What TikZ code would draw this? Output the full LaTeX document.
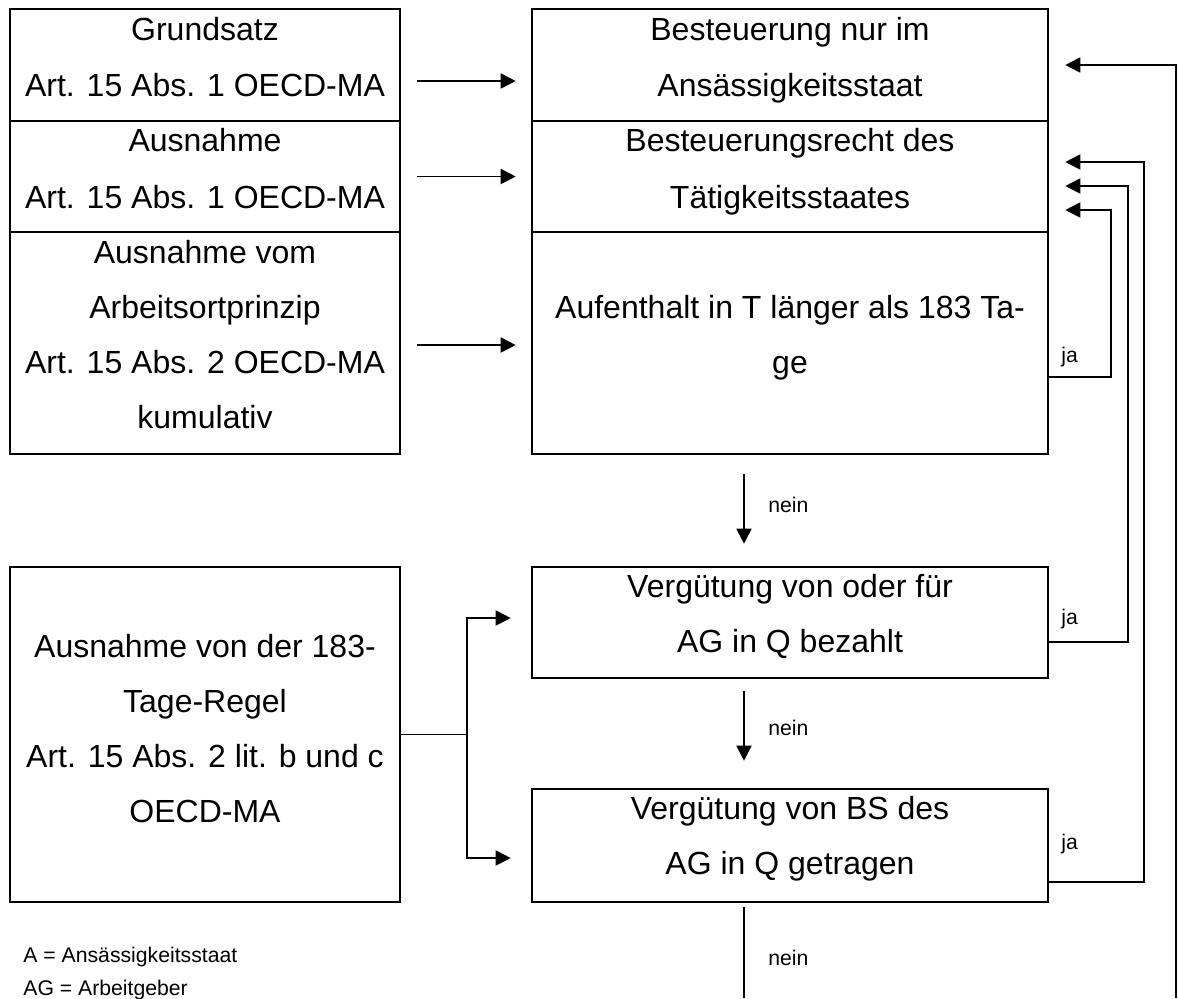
\documentclass[tikz,border=0pt]{standalone}
\usepackage{fontspec}
\setmainfont{Liberation Sans}
\usetikzlibrary{arrows.meta,calc}
\begin{document}
\begin{tikzpicture}[x=0.5pt,y=-0.5pt,
  box/.style={draw, line width=1.3pt, rectangle, inner sep=0pt},
  txt/.style={inner sep=0pt, anchor=base, font=\fontsize{16}{19}\selectfont},
  lbl/.style={inner sep=0pt, anchor=base west, font=\fontsize{10.6}{12}\selectfont},
  conn/.style={line width=0.9pt},
  arr/.style={conn, -{Triangle[length=7.5pt,width=7.5pt]}}]
\useasboundingbox (0,0) rectangle (1179,998);

% left column boxes
\node[box, minimum width=195pt, minimum height=56pt]   (L1) at (205,65) {};
\node[box, minimum width=195pt, minimum height=55.5pt] (L2) at (205,176.5) {};
\node[box, minimum width=195pt, minimum height=111pt]  (L3) at (205,343) {};
\node[box, minimum width=195pt, minimum height=167.5pt] (LD) at (205,734.5) {};

% right column boxes
\node[box, minimum width=258pt, minimum height=56pt]   (R1) at (790,65) {};
\node[box, minimum width=258pt, minimum height=55.5pt] (R2) at (790,176.5) {};
\node[box, minimum width=258pt, minimum height=111pt]  (R3) at (790,343) {};
\node[box, minimum width=258pt, minimum height=55.5pt] (R4) at (790,622.5) {};
\node[box, minimum width=258pt, minimum height=56.5pt] (R5) at (790,845.5) {};

% texts left
\node[txt] (t11) at (205,40)   {Grundsatz};
\node[txt] (t12) at (205,96.5) {Art. 15 Abs. 1 OECD-MA};
\node[txt] (t21) at (205,151.5){Ausnahme};
\node[txt] (t22) at (205,208)  {Art. 15 Abs. 1 OECD-MA};
\node[txt] (t31) at (205,263)  {Ausnahme vom};
\node[txt] (t32) at (205,318)  {Arbeitsortprinzip};
\node[txt] (t33) at (205,373)  {Art. 15 Abs. 2 OECD-MA};
\node[txt] (t34) at (205,428)  {kumulativ};
\node[txt] (tD1) at (205,657)  {Ausnahme von der 183-};
\node[txt] (tD2) at (205,712)  {Tage-Regel};
\node[txt] (tD3) at (205,767)  {Art. 15 Abs. 2 lit. b und c};
\node[txt] (tD4) at (205,822)  {OECD-MA};

% texts right
\node[txt] (r11) at (790,40)   {Besteuerung nur im};
\node[txt] (r12) at (790,96.5) {Ansässigkeitsstaat};
\node[txt] (r21) at (790,151.5){Besteuerungsrecht des};
\node[txt] (r22) at (790,208)  {Tätigkeitsstaates};
\node[txt] (r31) at (790,318)  {Aufenthalt in T länger als 183 Ta-};
\node[txt] (r32) at (790,373)  {ge};
\node[txt] (r41) at (790,597)  {Vergütung von oder für};
\node[txt] (r42) at (790,652)  {AG in Q bezahlt};
\node[txt] (r51) at (790,819)  {Vergütung von BS des};
\node[txt] (r52) at (790,874)  {AG in Q getragen};

% left to right arrows
\draw[arr, shorten <=8pt, shorten >=7.5pt] ($(L1.east)+(0,16)$) -- ($(R1.west)+(0,16)$);
\draw[arr, shorten <=8pt, shorten >=7.5pt] (L2.east) -- (R2.west);
\draw[arr, shorten <=8pt, shorten >=7.5pt] ($(L3.east)+(0,2)$) -- ($(R3.west)+(0,2)$);

% branch from LD
\coordinate (br) at ($(LD.east)+(66,0)$);
\draw[conn] (LD.east) -- (br);
\draw[arr, shorten >=10pt] (br) |- ($(R4.west)+(0,-4.5)$);
\draw[arr, shorten >=10pt] (br) |- ($(R5.west)+(0,12.5)$);

% nein arrows
\draw[arr, shorten <=9.5pt, shorten >=11pt] ($(R3.south)+(-46,0)$) -- ($(R4.north)+(-46,0)$);
\draw[arr, shorten <=6pt, shorten >=13.5pt] ($(R4.south)+(-46,0)$) -- ($(R5.north)+(-46,0)$);
\coordinate (cutA) at (744,998);
\draw[conn, shorten <=2pt] ($(R5.south)+(-46,0)$) -- (cutA);

% ja connectors
\coordinate (k3) at (1111,210);
\draw[arr, shorten >=8pt] ($(R3.east)+(0,34)$) -| (k3) -- ($(R2.east)+(0,33.5)$);
\coordinate (k4) at (1128,186);
\draw[arr, shorten >=8pt] ($(R4.east)+(0,19.5)$) -| (k4) -- ($(R2.east)+(0,9.5)$);
\coordinate (k5) at (1144,162);
\draw[arr, shorten >=8pt] ($(R5.east)+(0,36.5)$) -| (k5) -- ($(R2.east)+(0,-14.5)$);
\coordinate (cutB) at (1176,998);
\coordinate (k6) at (1176,65);
\draw[arr, shorten >=8pt] (cutB) -- (k6) -- (R1.east);

% labels
\node[lbl] (n1) at (768,512) {nein};
\node[lbl] (n2) at (768,735) {nein};
\node[lbl] (n3) at (768,965) {nein};
\node[lbl] (j1) at (1061,362) {ja};
\node[lbl] (j2) at (1061,624) {ja};
\node[lbl] (j3) at (1061,849) {ja};

% legend
\node[lbl] (lg1) at (23,962) {A = Ansässigkeitsstaat};
\node[lbl] (lg2) at (23,995) {AG = Arbeitgeber};
\end{tikzpicture}
\end{document}
